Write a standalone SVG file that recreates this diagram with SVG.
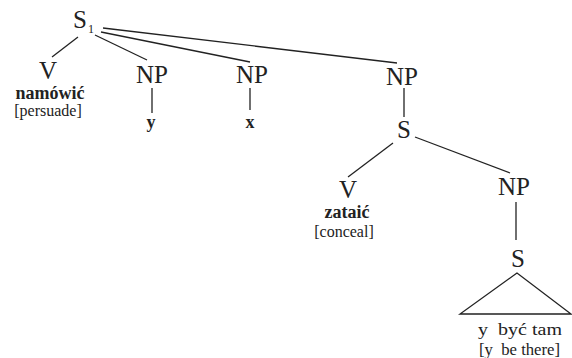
<svg xmlns="http://www.w3.org/2000/svg" width="572" height="358" viewBox="0 0 572 358">
<style>
text{font-family:'Liberation Serif','DejaVu Serif',serif;fill:#222}
.cat{font-size:25px;text-anchor:middle}
.sub{font-size:12px}
.lex{font-size:18px;font-weight:bold;text-anchor:middle}
.gl{font-size:16px;text-anchor:middle}
.ph{font-size:17px}
.e{stroke:#222;stroke-width:1.3;fill:none}
</style>
<rect width="572" height="358" fill="#fff"/>
<g id="connectors">
<line class="e" x1="78" y1="37" x2="52" y2="57"/>
<line class="e" x1="95" y1="35" x2="147" y2="60"/>
<line class="e" x1="101" y1="32" x2="250" y2="62"/>
<line class="e" x1="103" y1="28" x2="397" y2="63"/>
<line class="e" x1="152" y1="88" x2="152" y2="113"/>
<line class="e" x1="250" y1="88" x2="250" y2="110"/>
<line class="e" x1="404" y1="88" x2="404" y2="117"/>
<line class="e" x1="393" y1="143" x2="348" y2="177"/>
<line class="e" x1="415" y1="137" x2="510" y2="173"/>
<line class="e" x1="516" y1="202" x2="516" y2="240"/>
<polygon class="e" points="517,273 460,314 571,314"/>
</g>
<g id="S1"><text class="cat" x="80" y="28">S</text><text class="sub" x="88" y="33">1</text></g>
<g id="V1"><text class="cat" x="48" y="79">V</text><text class="lex" x="50" y="99">namówić</text><text class="gl" x="48" y="116">[persuade]</text></g>
<g id="NP1"><text class="cat" x="152" y="83">NP</text><text class="lex" x="151" y="128">y</text></g>
<g id="NP2"><text class="cat" x="252" y="83">NP</text><text class="lex" x="250" y="128">x</text></g>
<g id="NP3"><text class="cat" x="402" y="85">NP</text></g>
<g id="S2"><text class="cat" x="404" y="138">S</text></g>
<g id="V2"><text class="cat" x="348" y="198">V</text><text class="lex" x="347" y="218">zataić</text><text class="gl" x="344" y="237">[conceal]</text></g>
<g id="NP4"><text class="cat" x="514" y="195">NP</text></g>
<g id="S3"><text class="cat" x="518" y="267">S</text><text class="ph" x="478" y="335" textLength="84" lengthAdjust="spacingAndGlyphs" xml:space="preserve">y  być tam</text><text class="ph" x="479" y="355" textLength="81" lengthAdjust="spacingAndGlyphs" xml:space="preserve">[y  be there]</text></g>
</svg>
